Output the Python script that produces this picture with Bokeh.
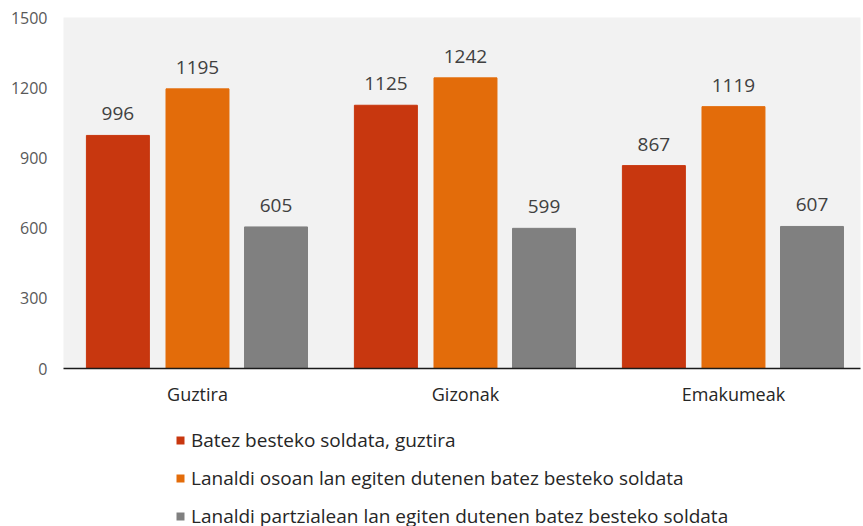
from bokeh.plotting import figure
from bokeh.layouts import column
from bokeh.models import ColumnDataSource, Range1d, Legend, LegendItem, FixedTicker
from bokeh.transform import dodge
from bokeh.core.properties import value
from bokeh.embed import file_html
from bokeh.resources import INLINE

categories = ["Guztira", "Gizonak", "Emakumeak"]
series_names = [
    "Batez besteko soldata, guztira",
    "Lanaldi osoan lan egiten dutenen batez besteko soldata",
    "Lanaldi partzialean lan egiten dutenen batez besteko soldata",
]
total = [996, 1125, 867]
full_time = [1195, 1242, 1119]
part_time = [605, 599, 607]
colors = ["#C8370F", "#E36C0A", "#808080"]
y_ticks = [0, 300, 600, 900, 1200, 1500]

FONT = "Open Sans"

cat_pos = list(range(len(categories)))

p = figure(
    x_range=Range1d(-0.5, 2.474), y_range=Range1d(0, 1500),
    width=863, height=410, output_backend="svg", toolbar_location=None,
    min_border_left=63, min_border_top=17, min_border_bottom=42, min_border_right=3,
)
p.background_fill_color = "#F2F2F2"
p.border_fill_color = "white"
p.outline_line_color = None
p.xgrid.grid_line_color = None
p.ygrid.grid_line_color = None

offsets = [-0.297, 0.0, 0.293]
series = [total, full_time, part_time]
for vals, off, col in zip(series, offsets, colors):
    src = ColumnDataSource(dict(pos=cat_pos, val=vals, lab=[str(v) for v in vals]))
    p.vbar(x=dodge("pos", off), top="val", width=0.235, bottom=0,
           source=src, fill_color=col, line_color=col)
    p.text(x=dodge("pos", off), y="val", text="lab", source=src,
           text_align="center", text_baseline="bottom", y_offset=-15,
           text_font=value(FONT), text_font_size="19px", text_color="#404040")

p.yaxis.ticker = FixedTicker(ticks=y_ticks)
p.yaxis.axis_line_color = None
p.yaxis.major_tick_line_color = None
p.yaxis.minor_tick_line_color = None
p.yaxis.major_tick_out = 0
p.yaxis.major_label_standoff = 16
p.yaxis.major_label_text_font = FONT
p.yaxis.major_label_text_font_size = "16px"
p.yaxis.major_label_text_color = "#595959"

p.xaxis.ticker = FixedTicker(ticks=cat_pos)
p.xaxis.major_label_overrides = {i: c for i, c in zip(cat_pos, categories)}
p.xaxis.minor_tick_line_color = None
p.xaxis.axis_line_color = "#1a1a1a"
p.xaxis.axis_line_width = 1.5
p.xaxis.major_tick_line_color = None
p.xaxis.major_tick_out = 0
p.xaxis.major_label_standoff = 13
p.xaxis.major_label_text_font = FONT
p.xaxis.major_label_text_font_size = "18px"
p.xaxis.major_label_text_color = "#262626"

# legend-only figure below the chart
p2 = figure(width=863, height=116, output_backend="svg", toolbar_location=None,
            x_axis_type=None, y_axis_type=None, x_range=Range1d(0, 1), y_range=Range1d(0, 1),
            min_border_left=0, min_border_right=0, min_border_top=0, min_border_bottom=0)
p2.outline_line_color = None
p2.xgrid.grid_line_color = None
p2.ygrid.grid_line_color = None
dummy = []
for col in colors:
    # zero-size swatch renderer used only for the legend glyph
    r = p2.vbar(x=[0.5], top=[0], bottom=[0], width=0, fill_color=col,
                line_color=col, line_width=0)
    dummy.append(r)

items = [LegendItem(label=n, renderers=[r]) for n, r in zip(series_names, dummy)]
legend = Legend(items=items, location=(112, -3), orientation="vertical",
                glyph_width=10, glyph_height=10, label_standoff=6,
                label_height=26, spacing=12, padding=0, margin=0,
                label_text_font=FONT, label_text_font_size="19px", label_text_color="#262626",
                border_line_color=None, background_fill_alpha=0)
p2.add_layout(legend, "center")

layout = column(p, p2, spacing=0)
open("out.html", "w").write(file_html(layout, INLINE))
